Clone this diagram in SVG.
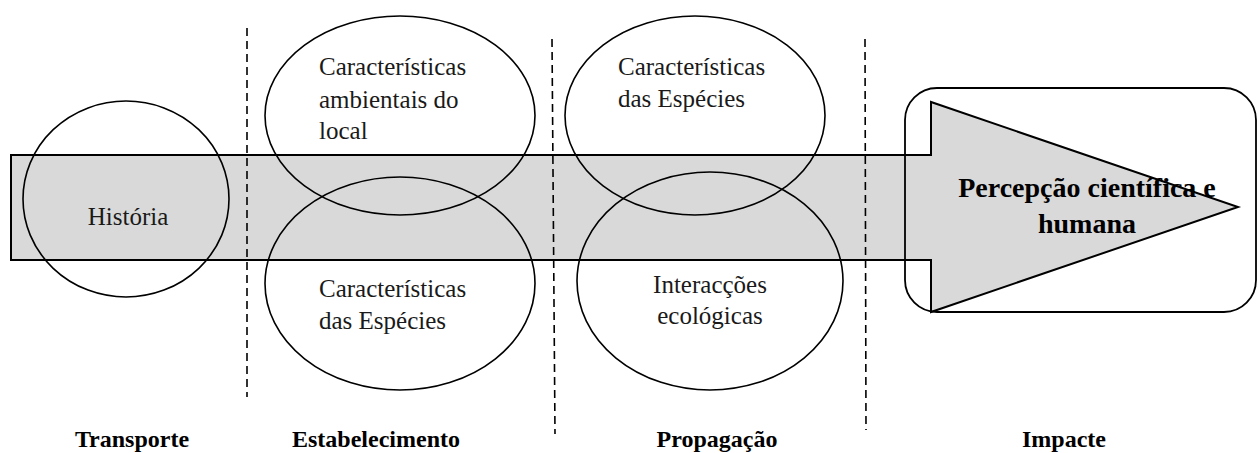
<svg xmlns="http://www.w3.org/2000/svg" width="1258" height="453" viewBox="0 0 1258 453">
<style>
.oval{fill:none;stroke:#000;stroke-width:1.6}
.div{stroke:#000;stroke-width:1.6;stroke-dasharray:8,5;fill:none}
.t{font-family:"Liberation Serif","Times New Roman",serif;font-size:25px;fill:#1a1a1a}
.b{font-family:"Liberation Serif","Times New Roman",serif;font-weight:bold;fill:#000}
</style>
<rect width="1258" height="453" fill="#fff"/>
<g id="arrow">
<polygon points="11,155 931,155 931,102 1238,207 931,312 931,260 11,260" fill="#d9d9d9" stroke="#000" stroke-width="2" stroke-linejoin="miter"/>
</g>
<g id="connectors">
<line class="div" x1="247" y1="28" x2="247" y2="397"/>
<line class="div" x1="552" y1="39" x2="555" y2="434"/>
<line class="div" x1="865" y1="39" x2="866" y2="430"/>
</g>
<g id="impacte-box">
<rect x="905" y="88" width="351" height="224" rx="32" ry="32" fill="none" stroke="#000" stroke-width="1.8"/>
<text class="b" font-size="28" text-anchor="middle" x="1087" y="197">Percepção científica e</text>
<text class="b" font-size="28" text-anchor="middle" x="1087" y="233">humana</text>
</g>
<g id="historia">
<ellipse class="oval" cx="126" cy="199" rx="103" ry="98"/>
<text class="t" text-anchor="middle" x="128" y="225">História</text>
</g>
<g id="est-ambientais">
<ellipse class="oval" cx="400" cy="115.5" rx="135" ry="99.5"/>
<text class="t" x="319" y="75">Características</text>
<text class="t" x="319" y="108">ambientais do</text>
<text class="t" x="319" y="139">local</text>
</g>
<g id="est-especies">
<ellipse class="oval" cx="400" cy="283.5" rx="135" ry="106.5"/>
<text class="t" x="319" y="297">Características</text>
<text class="t" x="319" y="329">das Espécies</text>
</g>
<g id="prop-especies">
<ellipse class="oval" cx="695" cy="115.5" rx="130" ry="99.5"/>
<text class="t" x="618" y="75">Características</text>
<text class="t" x="618" y="107">das Espécies</text>
</g>
<g id="prop-interaccoes">
<ellipse class="oval" cx="710" cy="281" rx="133" ry="109"/>
<text class="t" text-anchor="middle" x="710" y="293">Interacções</text>
<text class="t" text-anchor="middle" x="710" y="324">ecológicas</text>
</g>
<g id="labels">
<text class="b" font-size="24" text-anchor="middle" x="132" y="447">Transporte</text>
<text class="b" font-size="24" text-anchor="middle" x="376" y="447">Estabelecimento</text>
<text class="b" font-size="24" text-anchor="middle" x="717" y="447">Propagação</text>
<text class="b" font-size="24" text-anchor="middle" x="1064" y="447">Impacte</text>
</g>
</svg>
